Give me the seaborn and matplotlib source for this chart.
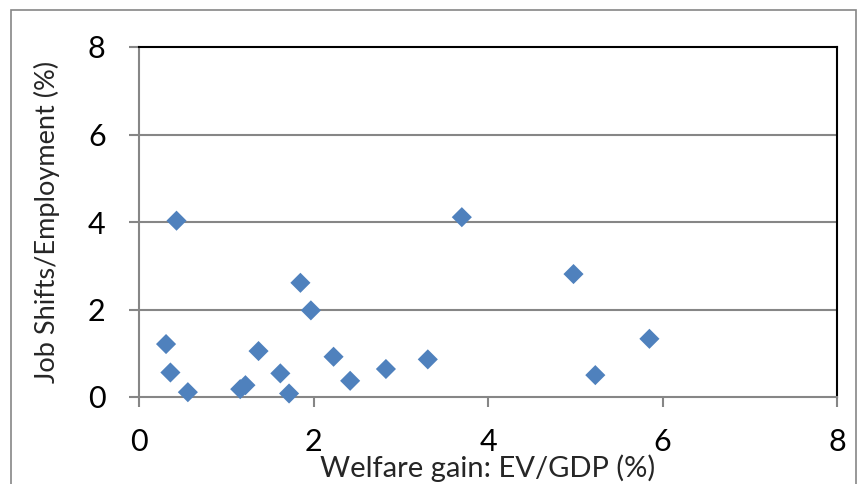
import matplotlib
matplotlib.use("Agg")
import matplotlib.pyplot as plt
import matplotlib.patches as mpatches
import seaborn as sns
import pandas as pd

# values
welfare_gain = [0.31, 0.36, 0.43, 0.56, 1.16, 1.22, 1.37, 1.62, 1.72, 1.85,
                1.97, 2.23, 2.42, 2.83, 3.31, 3.70, 4.98, 5.23, 5.85]
job_shifts = [1.21, 0.56, 4.03, 0.11, 0.18, 0.27, 1.05, 0.54, 0.08, 2.61,
              1.98, 0.92, 0.37, 0.64, 0.86, 4.11, 2.81, 0.50, 1.33]
ticks = [0, 2, 4, 6, 8]

sns.set_theme(style="white")
plt.rcParams["font.family"] = ["Lato", "DejaVu Sans"]

GRID = "#868686"
BLUE = "#4F81BD"

df = pd.DataFrame({"x": welfare_gain, "y": job_shifts})

fig = plt.figure(figsize=(8.66, 4.84), dpi=100)
ax = fig.add_axes([139 / 866, 1 - 397 / 484, (837 - 139) / 866, (397 - 47) / 484])

# chart area border like the spreadsheet frame
fig.patches.append(mpatches.Rectangle((11 / 866, -0.05), (856 - 11) / 866, 1.05 - 9.5 / 484,
                                      transform=fig.transFigure, fill=False,
                                      edgecolor=GRID, linewidth=1.2))

sns.scatterplot(data=df, x="x", y="y", marker="D", s=105, color=BLUE,
                edgecolor="none", linewidth=0, ax=ax, zorder=3, clip_on=False)

ax.set_xlim(0, 8)
ax.set_ylim(0, 8)
ax.set_xticks(ticks)
ax.set_yticks(ticks)
ax.set_xticklabels([str(t) for t in ticks])
ax.set_yticklabels([str(t) for t in ticks])

for t in ticks[1:-1]:
    ax.axhline(t, color=GRID, linewidth=1.5, zorder=1)

for side in ["left", "bottom"]:
    ax.spines[side].set_color(GRID)
    ax.spines[side].set_linewidth(1.5)
for side in ["top", "right"]:
    ax.spines[side].set_color("black")
    ax.spines[side].set_linewidth(1.5)

ax.tick_params(axis="both", which="major", direction="out", length=7, width=1.5,
               color=GRID, labelsize=22, labelcolor="black")
ax.tick_params(axis="x", bottom=True, pad=15)
ax.tick_params(axis="y", left=True, pad=17)

ax.set_xlabel("Welfare gain: EV/GDP (%)", fontsize=21)
ax.xaxis.set_label_coords(0.5, -0.163)
ax.set_ylabel("Job Shifts/Employment (%)", fontsize=19.5, labelpad=20)

fig.savefig("out.png", dpi=100)
